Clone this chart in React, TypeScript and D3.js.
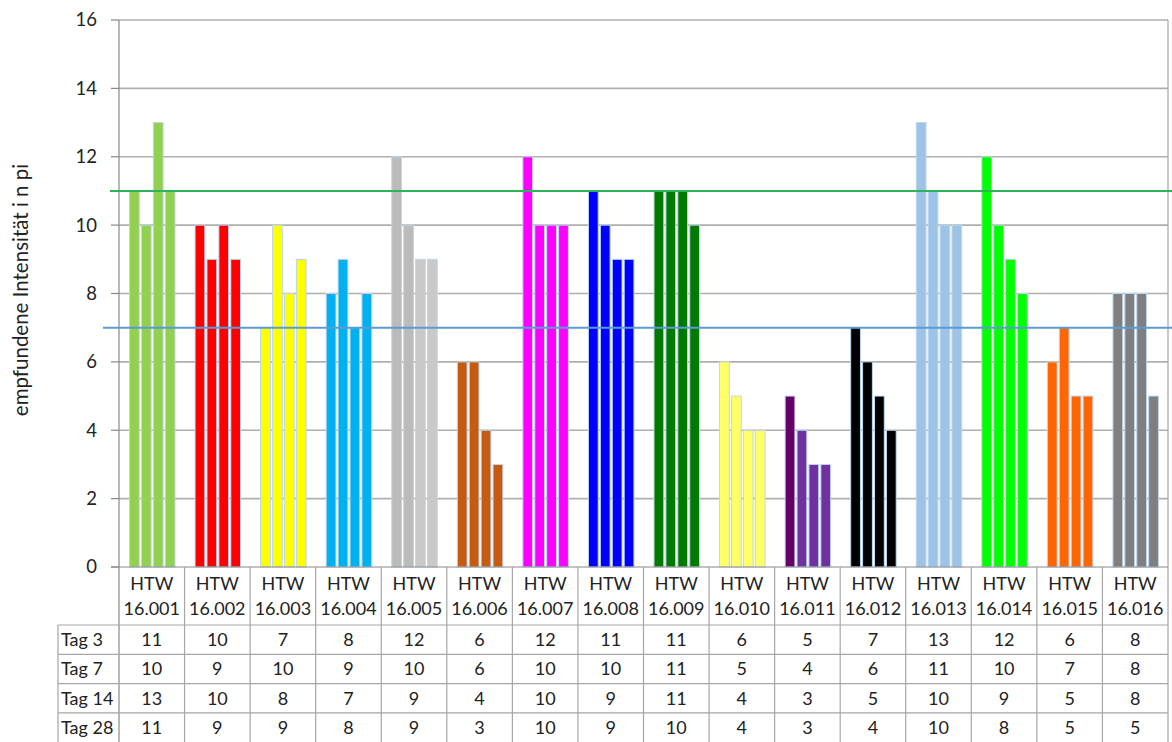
import React from "react";
import * as d3 from "d3";

const categories = ["16.001","16.002","16.003","16.004","16.005","16.006","16.007","16.008","16.009","16.010","16.011","16.012","16.013","16.014","16.015","16.016"];
const rowLabels = ["Tag 3", "Tag 7", "Tag 14", "Tag 28"];
const tag3 = [11,10,7,8,12,6,12,11,11,6,5,7,13,12,6,8];
const tag7 = [10,9,10,9,10,6,10,10,11,5,4,6,11,10,7,8];
const tag14 = [13,10,8,7,9,4,10,9,11,4,3,5,10,9,5,8];
const tag28 = [11,9,9,8,9,3,10,9,10,4,3,4,10,8,5,5];
const series = [tag3, tag7, tag14, tag28];
const yTicks = [0,2,4,6,8,10,12,14,16];
const refUpper = 11;
const refLower = 7;
const groupColors = [
  ["#92D050","#92D050","#92D050","#92D050"],
  ["#FF0000","#FF0000","#FF0000","#FF0000"],
  ["#FFFF00","#FFFF00","#FFFF00","#FFFF00"],
  ["#00B0F0","#00B0F0","#00B0F0","#00B0F0"],
  ["#BBBBBB","#BBBBBB","#C9C9C9","#C9C9C9"],
  ["#C55A11","#C55A11","#C55A11","#C55A11"],
  ["#FF00FF","#FF00FF","#FF00FF","#FF00FF"],
  ["#0000FF","#0000FF","#0000FF","#0000FF"],
  ["#007A00","#007A00","#007A00","#007A00"],
  ["#FFFF66","#FFFF66","#FFFF66","#FFFF66"],
  ["#660066","#7030A0","#7030A0","#7030A0"],
  ["#000000","#000000","#000000","#000000"],
  ["#9DC3E6","#9DC3E6","#9DC3E6","#9DC3E6"],
  ["#00FF00","#00FF00","#00FF00","#00FF00"],
  ["#FF6600","#FF6600","#FF6600","#FF6600"],
  ["#7F7F7F","#7F7F7F","#7F7F7F","#7F7F7F"],
];

const W = 1172, H = 742;
const plotL = 119, plotR = 1168, plotT = 20, plotB = 567;
const font = "Lato, 'Open Sans', sans-serif";

export default function App() {
  const x = d3.scaleBand<string>().domain(categories).range([plotL, plotR]).padding(0);
  const y = d3.scaleLinear().domain([0, 16]).range([plotB, plotT]);
  const gw = x.bandwidth();
  const inner = d3.scaleBand<number>().domain([0,1,2,3]).range([10.5, 56]).paddingInner(0.18).paddingOuter(0);
  const rowTop = 625;
  const rowH = 29.3;
  const tableL = 58;
  const grid = "#AFAFAF";
  const tableLine = "#A6A6A6";

  return (
    <svg width={W} height={H} style={{ position: "absolute", left: 0, top: 0, background: "#fff" }} fontFamily={font}>
      {yTicks.map((t) => (
        <g key={t}>
          {t > 0 && <line x1={plotL} x2={plotR} y1={y(t)} y2={y(t)} stroke={grid} strokeWidth={1.6} />}
          <line x1={plotL - 8} x2={plotL} y1={y(t)} y2={y(t)} stroke="#888" strokeWidth={1.2} />
          <text x={97} y={y(t)} dy="0.35em" textAnchor="end" fontSize={18.5} fill="#222">{t}</text>
        </g>
      ))}
      {categories.map((c, gi) => (
        <g key={c}>
          {series.map((s, si) => (
            <rect key={si}
              x={(x(c) as number) + (inner(si) as number)}
              y={y(s[gi])}
              width={inner.bandwidth()}
              height={plotB - y(s[gi])}
              fill={groupColors[gi][si]}
              stroke="#BDD7EE" strokeWidth={1} />
          ))}
        </g>
      ))}
      <line x1={plotL} x2={plotL} y1={plotT} y2={H} stroke="#888" strokeWidth={1.2} />
      <line x1={plotR} x2={plotR} y1={plotT} y2={H} stroke={tableLine} strokeWidth={1.2} />
      <line x1={plotL - 8} x2={plotR} y1={plotB} y2={plotB} stroke="#888" strokeWidth={1.2} />
      <line x1={110} x2={W} y1={y(refUpper)} y2={y(refUpper)} stroke="#2DB35A" strokeWidth={2} />
      <line x1={103} x2={W} y1={y(refLower)} y2={y(refLower)} stroke="#5B9BD5" strokeWidth={2} />
      <text transform={`translate(28,290) rotate(-90)`} textAnchor="middle" fontSize={20.5} fill="#222">empfundene Intensität i n pi</text>
      {categories.map((c, gi) => (
        <g key={c}>
          {gi > 0 && <line x1={x(c) as number} x2={x(c) as number} y1={plotB} y2={H} stroke={tableLine} strokeWidth={1.2} />}
          <text x={(x(c) as number) + gw / 2} y={590} textAnchor="middle" fontSize={18} fill="#222">HTW</text>
          <text x={(x(c) as number) + gw / 2} y={615} textAnchor="middle" fontSize={18} fill="#222">{c}</text>
          {series.map((s, si) => (
            <text key={si} x={(x(c) as number) + gw / 2} y={rowTop + rowH * si + rowH / 2} dy="0.36em" textAnchor="middle" fontSize={18} fill="#222">{s[gi]}</text>
          ))}
        </g>
      ))}
      {rowLabels.map((r, i) => (
        <g key={r}>
          <line x1={tableL} x2={plotR} y1={rowTop + rowH * i} y2={rowTop + rowH * i} stroke={tableLine} strokeWidth={1.2} />
          <text x={61} y={rowTop + rowH * i + rowH / 2} dy="0.36em" fontSize={18} fill="#222">{r}</text>
        </g>
      ))}
      <line x1={tableL} x2={tableL} y1={rowTop} y2={H} stroke={tableLine} strokeWidth={1.2} />
    </svg>
  );
}
